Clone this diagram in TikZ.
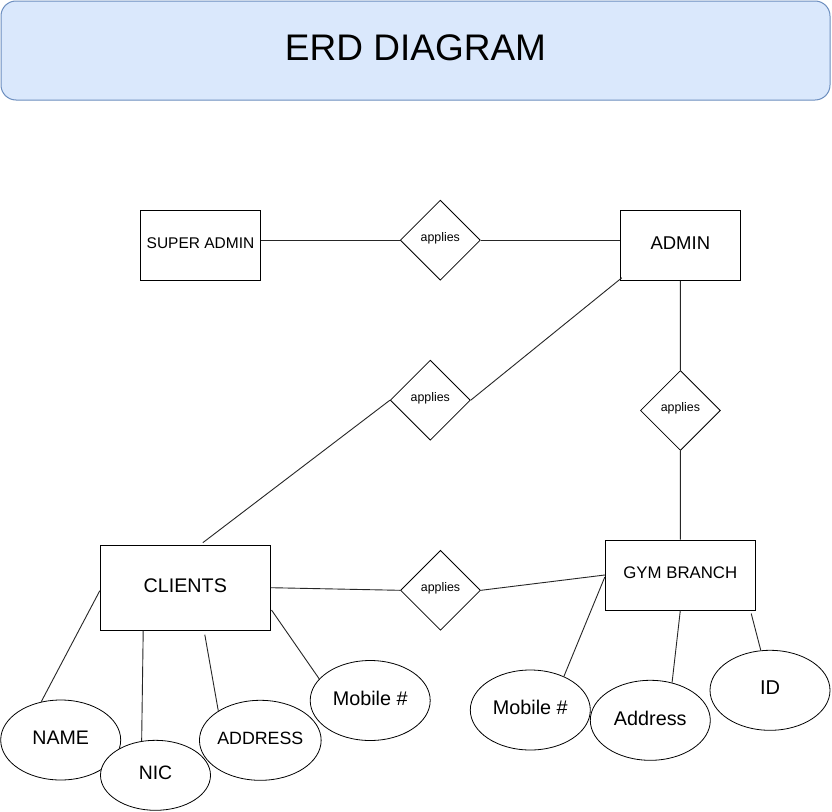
\documentclass[tikz,border=0pt]{standalone}
\usepackage{fontspec}
\setmainfont{Liberation Sans}
\usetikzlibrary{shapes.geometric}
\newcommand\myfs[1]{\fontsize{#1pt}{#1pt}\selectfont}
\definecolor{titlefill}{HTML}{DAE8FC}
\definecolor{titledraw}{HTML}{6C8EBF}
\begin{document}
\begin{tikzpicture}[x=1pt,y=-1pt,
  ent/.style={draw=black,line width=1pt,rectangle,inner sep=0pt,text depth=4pt},
  rel/.style={draw=black,line width=0.8pt,diamond,inner sep=0pt,minimum width=80pt,minimum height=80pt,font=\myfs{12.4},text depth=6pt},
  att/.style={draw=black,fill=white,line width=0.8pt,ellipse,inner sep=0pt,text depth=4.5pt},
  conn/.style={draw=black!85,line width=0.9pt}]
\useasboundingbox (0,0) rectangle (832,811);
\fill[white] (0,0) rectangle (832,811);
% title
\node[draw=titledraw,fill=titlefill,line width=1pt,rounded corners=15pt,minimum width=829pt,minimum height=99pt,inner sep=0pt,font=\myfs{37},text depth=5.5pt] (title) at (415.5,50.5) {ERD DIAGRAM};
% entities
\node[ent,minimum width=120pt,minimum height=70pt,font=\myfs{15.5}] (sa) at (200.5,245.3) {SUPER ADMIN};
\node[ent,minimum width=120pt,minimum height=70pt,font=\myfs{18.5}] (admin) at (680.3,245.3) {ADMIN};
\node[ent,minimum width=170pt,minimum height=85pt,font=\myfs{19.7}] (clients) at (185.3,587.7) {CLIENTS};
\node[ent,minimum width=150pt,minimum height=70pt,font=\myfs{16.8}] (gym) at (680.3,575) {GYM BRANCH};
% relationships
\node[rel] (d1) at (440.3,240.2) {applies};
\node[rel] (d2) at (430.3,400.2) {applies};
\node[rel] (d3) at (680.4,410.5) {applies};
\node[rel] (d4) at (440.5,590.3) {applies};
% attributes
\node[att,minimum width=120pt,minimum height=80pt,font=\myfs{19.6}] (name) at (60.7,740) {NAME};
\node[att,minimum width=110pt,minimum height=70pt,font=\myfs{19.4}] (nic) at (155.5,775.3) {NIC};
\node[att,fill=none,minimum width=120pt,minimum height=80pt,font=\myfs{17.8}] (addr) at (260.3,740.3) {ADDRESS};
\node[att,minimum width=120pt,minimum height=80pt,font=\myfs{19.8}] (mob1) at (370.2,700.5) {Mobile \#};
\node[att,minimum width=120pt,minimum height=80pt,font=\myfs{19.8}] (mob2) at (530.3,710) {Mobile \#};
\node[att,minimum width=120pt,minimum height=80pt,font=\myfs{19.8}] (addr2) at (650.3,720.3) {Address};
\node[att,minimum width=120pt,minimum height=80pt,font=\myfs{20}] (id) at (770,690.3) {ID};
% connectors
\draw[conn] (sa.east |- d1.west) -- (d1.west);
\draw[conn] (d1.east) -- (admin.west |- d1.east);
\draw[conn] ([xshift=2pt,yshift=3pt]admin.south west) -- (d2.east);
\draw[conn] (d2.west) -- ([xshift=103pt,yshift=2pt]clients.north west);
\draw[conn] (admin.south) -- (d3.north);
\draw[conn] (d3.south) -- (gym.north);
\draw[conn] (clients.east) -- (d4.west);
\draw[conn] (d4.east) -- (gym.west);
\draw[conn] ([yshift=-3pt]clients.west) -- (name.117);
\draw[conn] ([xshift=43.4pt]clients.south west) -- (nic.112.7);
\draw[conn] ([xshift=105pt,yshift=-4pt]clients.south west) -- (addr.145.5);
\draw[conn] ([xshift=0.7pt,yshift=-22.3pt]clients.east) -- (mob1.157.2);
\draw[conn] ([yshift=-2pt]gym.west) -- (mob2.45.3);
\draw[conn] (gym.south) -- (addr2.60.4);
\draw[conn] ([xshift=-4.6pt,yshift=-3pt]gym.south east) -- (id.103.2);
\end{tikzpicture}
\end{document}
